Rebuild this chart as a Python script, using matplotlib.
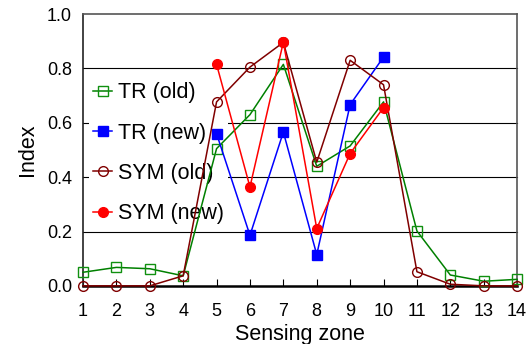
import matplotlib.pyplot as plt

plt.rcParams['font.family'] = ['Liberation Sans', 'DejaVu Sans']

zones = list(range(1, 15))
zones_new = [5, 6, 7, 8, 9, 10]
tr_old = [0.05, 0.068, 0.063, 0.037, 0.505, 0.63, 0.815, 0.44, 0.515, 0.677, 0.202, 0.04, 0.017, 0.024]
tr_new = [0.56, 0.186, 0.566, 0.115, 0.667, 0.842]
sym_old = [0.0, 0.0, 0.0, 0.037, 0.677, 0.805, 0.896, 0.455, 0.83, 0.74, 0.052, 0.006, 0.0, 0.0]
sym_new = [0.815, 0.364, 0.897, 0.211, 0.487, 0.656]

fig = plt.figure(figsize=(5.32, 3.44), dpi=100)
ax = fig.add_axes([0.156, 0.169, 0.816, 0.79])

for y in [0.2, 0.4, 0.6, 0.8]:
    ax.axhline(y, color='black', lw=0.8, zorder=0.5)

ax.plot(zones, tr_old, color='#008000', lw=1.1, marker='s', ms=7,
        mfc='none', mec='#109010', mew=1, label='TR (old)', zorder=3)
ax.plot(zones_new, tr_new, color='#0000ff', lw=1.1, marker='s', ms=7,
        mfc='#0000ff', mec='#0000ff', label='TR (new)', zorder=3)
ax.plot(zones, sym_old, color='#800000', lw=1.1, marker='o', ms=7,
        mfc='none', mec='#800000', mew=1, label='SYM (old)', zorder=3)
ax.plot(zones_new, sym_new, color='#ff0000', lw=1.1, marker='o', ms=7,
        mfc='#ff0000', mec='#ff0000', label='SYM (new)', zorder=3)

ax.set_xlim(1, 14)
ax.set_ylim(0, 1.0)
ax.set_xticks(zones)
ax.set_yticks([0.0, 0.2, 0.4, 0.6, 0.8, 1.0])
ax.set_yticklabels(['0.0', '0.2', '0.4', '0.6', '0.8', '1.0'])
ax.tick_params(axis='x', direction='in', length=5, labelsize=13, pad=12)
ax.tick_params(axis='y', length=0, labelsize=13, pad=8)
for s in ax.spines.values():
    s.set_linewidth(1.2)
ax.spines['top'].set_color('#555555')
ax.spines['right'].set_color('#555555')
ax.spines['left'].set_color('#222222')
ax.spines['bottom'].set_linewidth(1.8)
for line in ax.lines:
    line.set_clip_on(False)

ax.set_xlabel('Sensing zone', fontsize=15.5, labelpad=3)
ax.set_ylabel('Index', fontsize=15.5, labelpad=6)

leg = ax.legend(loc='upper left', bbox_to_anchor=(-0.012, 0.805), fontsize=15.5,
                frameon=True, facecolor='white', edgecolor='none', framealpha=1,
                handlelength=0.9, handletextpad=0.25, labelspacing=0.9,
                borderpad=0.2)
leg.set_zorder(1)

fig.savefig('out.png', dpi=100)
